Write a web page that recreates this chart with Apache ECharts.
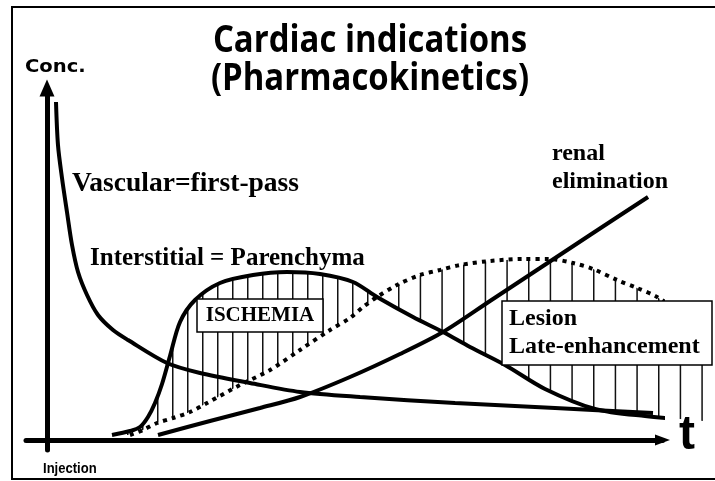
<!DOCTYPE html>
<html>
<head>
<meta charset="utf-8">
<script src="https://cdn.jsdelivr.net/npm/echarts@6/dist/echarts.min.js"></script>
<style>
  html, body { margin: 0; padding: 0; background: #fff; }
  #chart { width: 715px; height: 481px; }
</style>
</head>
<body>
<div id="chart"></div>
<script>
// Concentration curves over time after contrast injection (arbitrary units)
const vascular = [[1.5,84.5],[1.83,73.75],[2.5,65.5],[3.33,57],[4.17,48.75],[5.17,42],[6.67,36.25],[8.5,31.25],[11,27.5],[13.5,25],[20,19.25],[25.5,16.75],[33.83,14.25],[42.17,12],[52.17,10.75],[68,9.25],[84.67,8],[101,6.75]];

const interstitial = [[10.83,1.25],[13.83,2.25],[15.5,3.25],[16.83,5.75],[18,9.25],[19.17,14],[20.5,21],[22.17,29.5],[24.67,35],[28.83,39.25],[34.33,41.25],[40,42],[45.5,41.5],[51,39.5],[55,35.75],[61,30.75],[66,27],[70.5,23.25],[76.33,18.75],[83,12.75],[91.33,7.75],[99.67,6],[111.33,4.5]];

const lateEnhancement = [[13.83,1.25],[16,2.5],[18.33,4.25],[21,5.5],[23.83,7],[26.67,9.25],[32.17,13.75],[37.17,17.5],[42.17,22.5],[47.17,27.5],[50.5,30.5],[52.67,33.25],[55,35.75],[58.33,38.75],[62.17,41.25],[65.5,42.5],[68.83,43.75],[73.83,44.75],[79.33,45.25],[83.83,45.25],[87.67,44.25],[91,42.75],[95,40],[98.33,38],[101.67,35.75],[111,26.75]];

const renal = [[18.5,1.25],[27.17,4.75],[35.5,8],[42.17,10.75],[50.5,15.75],[58.83,21.5],[66,27],[73.83,34.75],[82.17,43],[90.5,51.25],[100.17,60.75]];

// Point where the interstitial and late-enhancement curves cross
const crossing = [55, 35.75];

const titleLines = ['Cardiac indications', '(Pharmacokinetics)'];
const axisNames = { y: 'Conc.', x: 't', origin: 'Injection' };
const labels = {
  vascular: 'Vascular=first-pass',
  interstitial: 'Interstitial = Parenchyma',
  ischemia: 'ISCHEMIA',
  renal: ['renal', 'elimination'],
  lesion: ['Lesion', 'Late-enhancement']
};

// Vertical hatching tile: period in px, line positions inside the tile
function hatch(period, positions) {
  const c = document.createElement('canvas');
  c.width = period; c.height = 8;
  const g = c.getContext('2d');
  g.fillStyle = '#111';
  positions.forEach(p => g.fillRect(p, 0, 1.5, 8));
  return { image: c, repeat: 'repeat' };
}
const hatchLeft = hatch(15, [7]);
const hatchRight = hatch(65, [8, 29.67, 51.33]);

function indexOfPoint(arr, pt) {
  return arr.findIndex(p => p[0] === pt[0] && p[1] === pt[1]);
}

const chart = echarts.init(document.getElementById('chart'), null, { renderer: 'canvas' });

const serif = '"Liberation Serif", "Times New Roman", serif';
const lineBase = {
  type: 'line', showSymbol: false, smooth: 0.3, clip: false, silent: true, z: 3,
  lineStyle: { color: '#000', width: 4, cap: 'butt' }
};

function textEl(x, y, text, font, extra, scaleX) {
  return {
    type: 'text', x: x, y: y, z: 100, silent: true, scaleX: scaleX || 1,
    style: Object.assign({ text: text, font: font, fill: '#000', verticalAlign: 'middle', align: 'left' }, extra || {})
  };
}

chart.setOption({
  animation: false,
  backgroundColor: '#fff',
  grid: { left: 26, right: 52.5, top: 88, bottom: 31, containLabel: false },
  xAxis: {
    type: 'value', min: -3.5, max: 102.58,
    axisLine: { onZero: true, symbol: ['none', 'triangle'], symbolSize: [11, 15], lineStyle: { color: '#000', width: 5 } },
    axisTick: { show: false }, axisLabel: { show: false }, splitLine: { show: false }
  },
  yAxis: {
    type: 'value', min: -2.5, max: 88,
    axisLine: { onZero: true, symbol: ['none', 'triangle'], symbolSize: [15, 17], lineStyle: { color: '#000', width: 5 } },
    axisTick: { show: false }, axisLabel: { show: false }, splitLine: { show: false }
  },
  series: [
    {
      // hatched area between the interstitial and late-enhancement curves
      type: 'custom', silent: true, z: 1, clip: false,
      data: [[0, 0]],
      renderItem: function (params, api) {
        const iI = indexOfPoint(interstitial, crossing);
        const iL = indexOfPoint(lateEnhancement, crossing);
        const toPx = arr => arr.map(p => api.coord(p));
        const leftLobe = toPx(interstitial.slice(0, iI + 1).concat(lateEnhancement.slice(0, iL + 1).reverse()));
        const rightLobe = toPx(interstitial.slice(iI).concat(lateEnhancement.slice(iL).reverse()));
        return {
          type: 'group',
          children: [
            { type: 'polygon', shape: { points: leftLobe, smooth: 0 }, style: { fill: hatchLeft, stroke: null } },
            { type: 'polygon', shape: { points: rightLobe, smooth: 0 }, style: { fill: hatchRight, stroke: null } }
          ]
        };
      }
    },
    Object.assign({}, lineBase, { name: 'Vascular', data: vascular }),
    Object.assign({}, lineBase, { name: 'Interstitial', data: interstitial }),
    Object.assign({}, lineBase, { name: 'Late enhancement', data: lateEnhancement,
      lineStyle: { color: '#000', width: 4, type: [4, 5], cap: 'butt' } }),
    Object.assign({}, lineBase, { name: 'Renal elimination', data: renal })
  ],
  graphic: [
    { type: 'rect', z: 0, silent: true, shape: { x: 12, y: 7, width: 720, height: 472 },
      style: { fill: null, stroke: '#000', lineWidth: 2 } },
    textEl(370, 41.5, titleLines[0], 'bold 37px "Open Sans", sans-serif', { align: 'center' }, 0.89),
    textEl(370, 79.5, titleLines[1], 'bold 37px "Open Sans", sans-serif', { align: 'center' }, 0.89),
    textEl(25, 67.5, axisNames.y, 'bold 17px "DejaVu Sans", sans-serif', null, 1.15),
    textEl(43, 468.5, axisNames.origin, 'bold 15px "Liberation Sans", Arial, sans-serif', null, 0.87),
    textEl(679, 436, axisNames.x, 'bold 48px "Liberation Sans", Arial, sans-serif'),
    textEl(72, 183.5, labels.vascular, 'bold 27.5px ' + serif),
    textEl(90, 258.5, labels.interstitial, 'bold 25px ' + serif),
    { type: 'rect', z: 90, silent: true, shape: { x: 197, y: 299, width: 126, height: 33 },
      style: { fill: '#fff', stroke: '#000', lineWidth: 1.5 } },
    textEl(260, 316, labels.ischemia, 'bold 21px ' + serif, { align: 'center' }),
    textEl(552, 154, labels.renal[0], 'bold 24px ' + serif),
    textEl(552, 182, labels.renal[1], 'bold 24px ' + serif),
    { type: 'rect', z: 90, silent: true, shape: { x: 502, y: 301, width: 210, height: 64 },
      style: { fill: '#fff', stroke: '#000', lineWidth: 1.5 } },
    textEl(509, 319, labels.lesion[0], 'bold 24px ' + serif),
    textEl(509, 347, labels.lesion[1], 'bold 24px ' + serif)
  ]
});
</script>
</body>
</html>
